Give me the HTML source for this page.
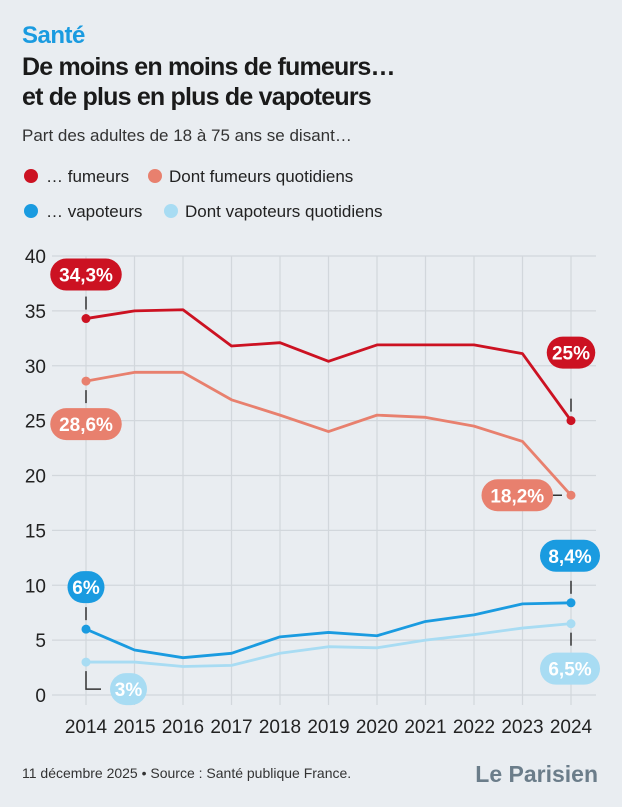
<!DOCTYPE html>
<html><head><meta charset="utf-8"><style>
body{margin:0;width:622px;height:807px;background:#e9edf1;font-family:"Liberation Sans",sans-serif;overflow:hidden;position:relative}
.t{position:absolute;left:22px}
</style></head><body>
<div class="t" style="top:22px;font-size:24px;font-weight:bold;color:#1a9be0;letter-spacing:-0.5px">Santé</div>
<div class="t" style="top:52px;font-size:25px;font-weight:bold;color:#1a1a1a;line-height:30px;letter-spacing:-0.8px">De moins en moins de fumeurs…<br>et de plus en plus de vapoteurs</div>
<div class="t" style="top:126px;font-size:17px;color:#333">Part des adultes de 18 à 75 ans se disant…</div>
<svg width="622" height="807" style="position:absolute;left:0;top:0" id="svg">
<g font-size="17" fill="#222">
<circle cx="31" cy="176" r="7" fill="#cc1222"/><text x="46" y="182">… fumeurs</text>
<circle cx="155" cy="176" r="7" fill="#e8806e"/><text x="169" y="182">Dont fumeurs quotidiens</text>
<circle cx="31" cy="211" r="7" fill="#1a9be0"/><text x="46" y="217">… vapoteurs</text>
<circle cx="171" cy="211" r="7" fill="#a8dcf3"/><text x="185" y="217">Dont vapoteurs quotidiens</text>
</g>
<g id="plot"></g>
<text x="22" y="778" font-size="14" fill="#333">11 décembre 2025 • Source : Santé publique France.</text>
<text x="598" y="782" font-size="23" font-weight="bold" fill="#6b7d8a" text-anchor="end" font-family="Liberation Sans Narrow,Liberation Sans,sans-serif">Le Parisien</text>
</svg>
<script>
const years=[2014,2015,2016,2017,2018,2019,2020,2021,2022,2023,2024];
const fumeurs=[34.3,35,35.1,31.8,32.1,30.4,31.9,31.9,31.9,31.1,25];
const fumeursQ=[28.6,29.4,29.4,26.9,25.5,24.0,25.5,25.3,24.5,23.1,18.2];
const vapoteurs=[6,4.1,3.4,3.8,5.3,5.7,5.4,6.7,7.3,8.3,8.4];
const vapoteursQ=[3,3,2.6,2.7,3.8,4.4,4.3,5.0,5.5,6.1,6.5];
const yTicks=[0,5,10,15,20,25,30,35,40];
const NS="http://www.w3.org/2000/svg";
const x=i=>86+i*48.5, y=v=>695-v*10.975;
const g=document.getElementById('plot');
function mk(t,a,p){const e=document.createElementNS(NS,t);for(const k in a)e.setAttribute(k,a[k]);(p||g).appendChild(e);return e;}
yTicks.forEach(v=>{
 const l=mk('line',{x1:52,x2:596,y1:y(v),y2:y(v),stroke:'#d2d7dc','stroke-width':1.2});
 
 
 const t=mk('text',{x:46,y:y(v)+7,'font-size':19,fill:'#222','text-anchor':'end'});t.textContent=v;
 
 
});
years.forEach((yr,i)=>{
 const l=mk('line',{x1:x(i),x2:x(i),y1:256,y2:705,stroke:'#d2d7dc','stroke-width':1.2});
 
 
 const t=mk('text',{x:x(i),y:733,'font-size':19,fill:'#222','text-anchor':'middle'});t.textContent=yr;
 
 
});
function series(d,c,name,lab0,lab1,s0,s1){
 const p=mk('polyline',{points:d.map((v,i)=>x(i)+','+y(v)).join(' '),fill:'none',stroke:c,'stroke-width':2.8,'stroke-linejoin':'round'});
 
 
 [[0,lab0,s0],[d.length-1,lab1,s1]].forEach(([i,lab,s])=>{
  const cx=x(i),cy=y(d[i]);
  const wdt=lab.length*11.5+14;
  let lx,ly;
  if(s[0]==='v'){
   const off=s[1];
   mk('line',{x1:cx,x2:cx,y1:cy+(off<0?-9:9),y2:cy+(off<0?-22:22),stroke:'#333','stroke-width':1.5});
   ly=cy+off; lx=cx-wdt/2; if(lx+wdt>600)lx=600-wdt;
  }else if(s[0]==='l'){
   mk('line',{x1:cx-9,x2:cx-18,y1:cy,y2:cy,stroke:'#333','stroke-width':1.5});
   ly=cy; lx=cx-18-wdt;
  }else{
   ly=cy+s[1];
   mk('polyline',{points:`${cx},${cy+9} ${cx},${ly} ${cx+15},${ly}`,fill:'none',stroke:'#333','stroke-width':1.5});
   lx=cx+24;
  }
  const c2=mk('circle',{cx:cx,cy:cy,r:4.5,fill:c});
  
  
  const r=mk('rect',{x:lx,y:ly-16,width:wdt,height:32,rx:16,fill:c});
  
  
  const t=mk('text',{x:lx+wdt/2,y:ly+7,'font-size':19,'font-weight':'bold',fill:'#fff','text-anchor':'middle'});t.textContent=lab;
  
  
 });
}
series(fumeurs,'#cc1222','fumeurs','34,3%','25%',['v',-44],['v',-68]);
series(fumeursQ,'#e8806e','fumeurs-quotidiens','28,6%','18,2%',['v',43],['l']);
series(vapoteurs,'#1a9be0','vapoteurs','6%','8,4%',['v',-42],['v',-47]);
series(vapoteursQ,'#a8dcf3','vapoteurs-quotidiens','3%','6,5%',['r',27],['v',45]);
</script>
</body></html>
